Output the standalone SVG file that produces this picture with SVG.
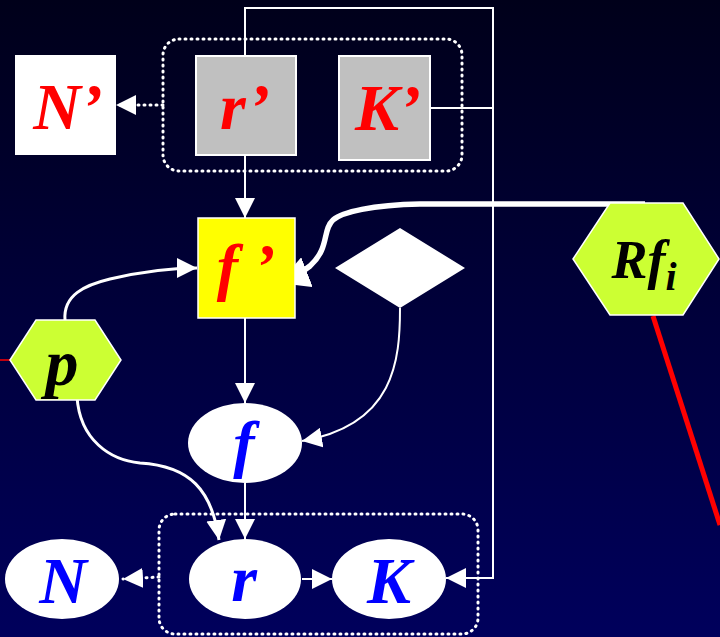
<svg xmlns="http://www.w3.org/2000/svg" width="720" height="637" viewBox="0 0 720 637">
<defs>
<linearGradient id="bg" x1="0" y1="0" x2="0" y2="1">
<stop offset="0" stop-color="#00001a"/>
<stop offset="1" stop-color="#00005c"/>
</linearGradient>
<marker id="ah" markerUnits="userSpaceOnUse" markerWidth="22" markerHeight="20" refX="20" refY="10" orient="auto">
<path d="M0,0 L20,10 L0,20 Z" fill="#fff"/>
</marker>
<marker id="ahb" markerUnits="userSpaceOnUse" markerWidth="32" markerHeight="32" refX="30" refY="16" orient="auto">
<path d="M0,0 L30,16 L0,32 Z" fill="#fff"/>
</marker>
<style>
.ln{fill:none;stroke:#fff;stroke-width:2}
.ln3{fill:none;stroke:#fff;stroke-width:3}
.dot{fill:none;stroke:#fff;stroke-width:3;stroke-dasharray:1 5;stroke-linecap:round}
.lbl{font-family:"Liberation Serif","Times New Roman",serif;font-weight:bold;font-style:italic;text-anchor:middle}
.red{fill:#ff0000}
.blue{fill:#0000ff}
.blk{fill:#000}
.hex{fill:#ccff33;stroke:#fff;stroke-width:1.5}
</style>
</defs>
<rect width="720" height="637" fill="url(#bg)"/>

<g id="groups">
<rect x="163" y="39" width="299" height="132" rx="16" class="dot"/>
<rect x="159" y="514" width="319" height="120" rx="16" class="dot"/>
</g>

<g id="connectors">
<polyline points="245,56 245,8 493,8 493,578 446,578" class="ln" marker-end="url(#ah)"/>
<line x1="430" y1="108" x2="493" y2="108" class="ln"/>
<line x1="163" y1="105" x2="116" y2="105" class="dot" marker-end="url(#ah)"/>
<line x1="245" y1="155" x2="245" y2="218" class="ln" marker-end="url(#ah)"/>
<path d="M645,204 L420,204 C372,205 342,212 333,220 C322,230 330,248 310,266 C300,274 292,278 279,283" fill="none" stroke="#fff" stroke-width="5.5" marker-end="url(#ahb)"/>
<line x1="653" y1="316" x2="720" y2="525" stroke="#ff0000" stroke-width="5"/>
<line x1="0" y1="360" x2="10" y2="360" stroke="#ff0000" stroke-width="1.5"/>
<path d="M65,320 C63,295 85,285 110,279 C140,272 165,268 197,268" class="ln3" marker-end="url(#ah)"/>
<path d="M77,397 C80,440 110,460 140,463 C190,466 212,490 219,540" class="ln3" marker-end="url(#ah)"/>
<line x1="245" y1="318" x2="245" y2="403" class="ln" marker-end="url(#ah)"/>
<path d="M400,308 C400,360 395,425 302,441" class="ln" marker-end="url(#ah)"/>
<line x1="245" y1="483" x2="245" y2="539" class="ln" marker-end="url(#ah)"/>
<line x1="302" y1="579" x2="332" y2="579" class="ln" marker-end="url(#ah)"/>
<line x1="159" y1="577" x2="123" y2="579" class="dot" marker-end="url(#ah)"/>
</g>

<g id="node-Nprime">
<rect x="15" y="55" width="101" height="100" fill="#fff"/>
<text x="68" y="129" font-size="66" class="lbl red">N’</text>
</g>
<g id="node-rprime">
<rect x="196" y="56" width="100" height="99" fill="#c0c0c0" stroke="#fff" stroke-width="2"/>
<text x="245" y="129" font-size="66" class="lbl red">r’</text>
</g>
<g id="node-Kprime">
<rect x="339" y="56" width="91" height="104" fill="#c0c0c0" stroke="#fff" stroke-width="2"/>
<text x="388" y="130" font-size="66" class="lbl red">K’</text>
</g>
<g id="node-fprime">
<rect x="198" y="218" width="97" height="100" fill="#ffff00" stroke="#fff" stroke-width="1.5"/>
<text x="246" y="288" font-size="64" class="lbl red">f ’</text>
</g>
<g id="node-diamond">
<polygon points="335,268 400,228 465,268 400,308" fill="#fff"/>
</g>
<g id="node-Rfi">
<polygon points="573,259 610,203 683,203 719,259 683,315 610,315" class="hex"/>
<text x="644" y="278" font-size="54" class="lbl blk">Rf<tspan font-size="40" dy="12">i</tspan></text>
</g>
<g id="node-p">
<polygon points="10,360 36,320 95,320 121,360 95,400 36,400" class="hex"/>
<text x="62" y="385" font-size="66" class="lbl blk">p</text>
</g>
<g id="node-f">
<ellipse cx="245" cy="443" rx="57" ry="40" fill="#fff"/>
<text x="244" y="465" font-size="64" class="lbl blue">f</text>
</g>
<g id="node-N">
<ellipse cx="62" cy="579" rx="57" ry="40" fill="#fff"/>
<text x="63" y="603" font-size="66" class="lbl blue">N</text>
</g>
<g id="node-r">
<ellipse cx="245" cy="579" rx="56" ry="40" fill="#fff"/>
<text x="244" y="601" font-size="66" class="lbl blue">r</text>
</g>
<g id="node-K">
<ellipse cx="389" cy="579" rx="57" ry="40" fill="#fff"/>
<text x="389" y="603" font-size="66" class="lbl blue">K</text>
</g>
</svg>
